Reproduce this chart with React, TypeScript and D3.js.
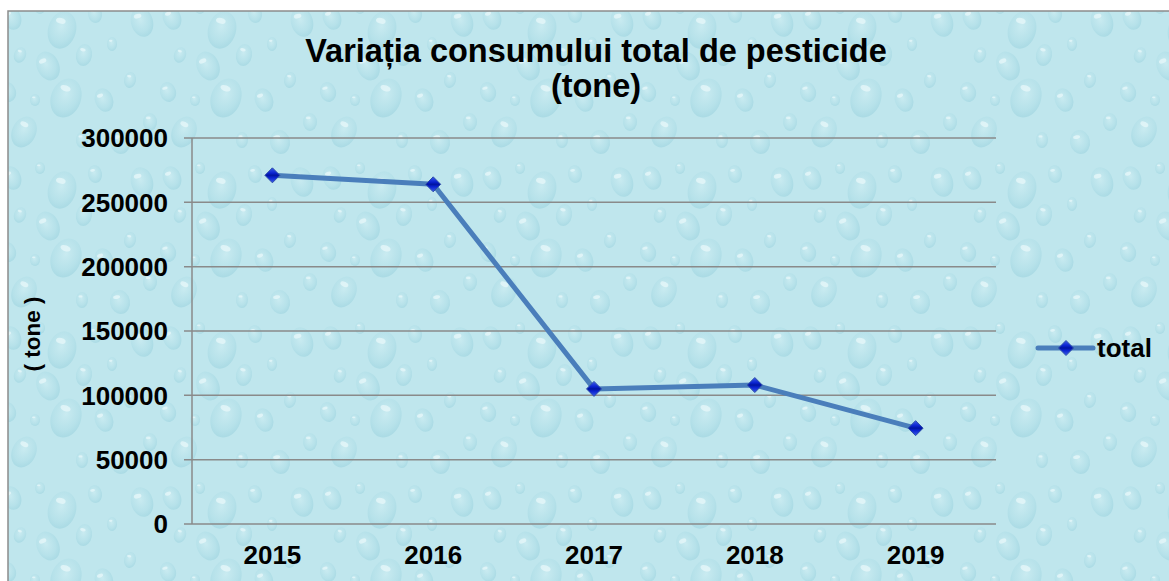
import React from "react";
import * as d3 from "d3";

const years = ["2015", "2016", "2017", "2018", "2019"];
const totals = [271000, 264000, 105000, 108000, 74500];
const yTicks = [0, 50000, 100000, 150000, 200000, 250000, 300000];
const seriesName = "total";

const W = 1169;
const H = 581;
const plot = { left: 192, top: 138, right: 996, bottom: 524 };
const font = "'Liberation Sans', Arial, sans-serif";

// drops for the background tile (decoration only)
const drops = [
  [12, 18, 9, 12, -20], [40, 8, 5, 6, 0], [62, 30, 14, 19, 15], [95, 14, 7, 9, -10],
  [20, 55, 6, 8, 20], [48, 66, 11, 15, -25], [84, 55, 8, 11, 10], [112, 44, 5, 7, 0],
  [8, 92, 8, 10, -15], [35, 100, 5, 6, 0], [66, 98, 15, 20, 20], [104, 100, 9, 12, -20],
  [130, 80, 6, 8, 10], [142, 22, 11, 15, -15], [150, 122, 7, 9, 0], [24, 132, 12, 16, 25],
  [82, 140, 6, 8, 0], [120, 142, 10, 12, -10],
];

const Diamond = ({ x, y, r }: { x: number; y: number; r: number }) => (
  <path
    d={`M${x},${y - r}L${x + r},${y}L${x},${y + r}L${x - r},${y}Z`}
    fill="url(#mk)"
    stroke="#2f4fa8"
    strokeWidth={1}
  />
);

const bold = (size: number) => ({
  fontSize: `${size}px`,
  fontWeight: 700,
  fontFamily: font,
});

const App = () => {
  const x = d3
    .scaleBand<string>()
    .domain(years)
    .range([plot.left, plot.right]);
  const y = d3
    .scaleLinear()
    .domain([0, 300000])
    .range([plot.bottom, plot.top]);

  const line = d3
    .line<number>()
    .x((d, i) => x(years[i])! + x.bandwidth() / 2)
    .y((d) => y(d));

  return (
    <svg
      width={W}
      height={H}
      style={{ position: "fixed", left: 0, top: 0 }}
    >
      <defs>
        <radialGradient id="drop" cx="45%" cy="40%" r="60%">
          <stop offset="0%" stopColor="#d6f1f5" stopOpacity={0.45} />
          <stop offset="70%" stopColor="#a9dbe5" stopOpacity={0.4} />
          <stop offset="100%" stopColor="#8ccad8" stopOpacity={0.4} />
        </radialGradient>
        <pattern id="water" width={160} height={160} patternUnits="userSpaceOnUse">
          <rect width={160} height={160} fill="#bfe6ed" />
          {drops.map(([cx, cy, rx, ry, a], i) => (
            <g key={i} transform={`rotate(${a} ${cx} ${cy})`}>
              <ellipse cx={cx} cy={cy} rx={rx} ry={ry} fill="url(#drop)" />
              <ellipse
                cx={cx - rx * 0.25}
                cy={cy - ry * 0.45}
                rx={rx * 0.35}
                ry={ry * 0.15}
                fill="#effafc"
                opacity={0.65}
              />
            </g>
          ))}
        </pattern>
        <linearGradient id="mk" x1="0" y1="0" x2="0" y2="1">
          <stop offset="0%" stopColor="#3c5ee8" />
          <stop offset="35%" stopColor="#0a22d0" />
          <stop offset="50%" stopColor="#0014a0" />
          <stop offset="65%" stopColor="#0a22d0" />
          <stop offset="100%" stopColor="#3c5ee8" />
        </linearGradient>
      </defs>

      <rect x={0} y={0} width={W} height={H} fill="#ffffff" />
      <rect
        x={8}
        y={11}
        width={W + 20}
        height={H + 20}
        fill="url(#water)"
        stroke="#8c8c8c"
        strokeWidth={1.5}
      />

      <text x={596} y={62} textAnchor="middle" fill="#000" style={bold(32.5)}>
        Variația consumului total de pesticide
      </text>
      <text x={596} y={97} textAnchor="middle" fill="#000" style={bold(32.5)}>
        (tone)
      </text>

      {/* gridlines */}
      {yTicks.map((t) => (
        <g key={t}>
          <line
            x1={plot.left - 8}
            x2={plot.right}
            y1={y(t)}
            y2={y(t)}
            stroke="#8a8a8a"
            strokeWidth={1.5}
          />
          <text
            x={168}
            y={y(t)}
            dy="0.36em"
            textAnchor="end"
            style={bold(26)}
          >
            {t}
          </text>
        </g>
      ))}
      <line
        x1={plot.left}
        x2={plot.left}
        y1={plot.top}
        y2={plot.bottom}
        stroke="#8a8a8a"
        strokeWidth={1.5}
      />

      {years.map((yr) => (
        <text
          key={yr}
          x={x(yr)! + x.bandwidth() / 2}
          y={564}
          textAnchor="middle"
          style={bold(26)}
        >
          {yr}
        </text>
      ))}

      <text
        transform={`translate(40 ${(plot.top + plot.bottom) / 2 + 3}) rotate(-90)`}
        textAnchor="middle"
        style={bold(22.5)}
      >
        ( tone )
      </text>

      <path
        d={line(totals)!}
        fill="none"
        stroke="#4a7ebb"
        strokeWidth={5}
        strokeLinejoin="round"
      />
      {totals.map((v, i) => (
        <Diamond key={i} x={x(years[i])! + x.bandwidth() / 2} y={y(v)} r={7.5} />
      ))}

      {/* legend */}
      <line x1={1038} x2={1093} y1={348} y2={348} stroke="#4a7ebb" strokeWidth={5} strokeLinecap="round" />
      <Diamond x={1066} y={348} r={7.5} />
      <text x={1097} y={357} style={bold(26)}>
        {seriesName}
      </text>
    </svg>
  );
};

export default App;
